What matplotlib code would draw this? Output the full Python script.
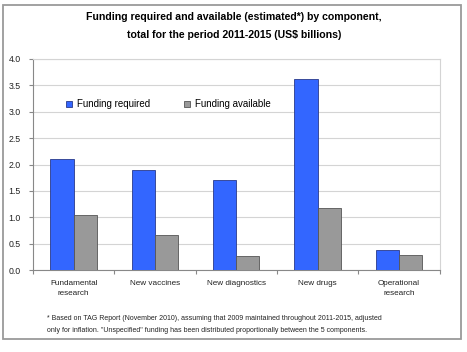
import matplotlib
matplotlib.use("Agg")
import matplotlib.pyplot as plt
import numpy as np
from matplotlib.patches import Rectangle

plt.rcParams["font.family"] = ["Liberation Sans", "DejaVu Sans"]

categories = ["Fundamental\nresearch", "New vaccines", "New diagnostics",
              "New drugs", "Operational\nresearch"]
required = [2.10, 1.89, 1.71, 3.63, 0.37]
available = [1.04, 0.67, 0.26, 1.17, 0.29]
yticks = [0.0, 0.5, 1.0, 1.5, 2.0, 2.5, 3.0, 3.5, 4.0]

W, H = 467, 352
fig = plt.figure(figsize=(W / 100, H / 100), dpi=100)

# outer frame
fig.patches.append(Rectangle((3 / W, 1 - 339 / H), 458 / W, 334 / H,
                             transform=fig.transFigure, fill=False,
                             edgecolor="#9a9a9a", linewidth=1.3))

ax = fig.add_axes([33 / W, 1 - 270 / H, 406.5 / W, 211 / H])

x = np.arange(len(categories))
bw = 0.285
ax.bar(x - bw / 2, required, bw, color="#3366ff", edgecolor="#2a3a8a",
       linewidth=0.6, label="Funding required", zorder=3)
ax.bar(x + bw / 2, available, bw, color="#999999", edgecolor="#555555",
       linewidth=0.6, label="Funding available", zorder=3)

ax.set_ylim(0, 4.0)
ax.set_xlim(-0.5, len(categories) - 0.5)
ax.set_yticks(yticks)
ax.set_yticklabels([f"{v:.1f}" for v in yticks], fontsize=6.3, color="#222222")
ax.yaxis.grid(True, color="#d4d4d4", linewidth=0.8, zorder=0)

# category separators as ticks, labels at centres
ax.set_xticks(np.arange(len(categories) + 1) - 0.5)
ax.set_xticklabels([])
ax.set_xticks(x, minor=True)
ax.set_xticklabels(categories, minor=True, fontsize=5.9, color="#222222",
                   linespacing=1.6)
ax.tick_params(axis="x", which="minor", length=0, pad=7)
ax.tick_params(axis="x", which="major", length=3, color="#888888")
ax.tick_params(axis="y", length=3, color="#888888", pad=6)

for s in ["top", "right"]:
    ax.spines[s].set_color("#d4d4d4")
for s in ["left", "bottom"]:
    ax.spines[s].set_color("#888888")

ax.legend(loc="upper left", bbox_to_anchor=(0.06, 0.85), ncol=2,
          frameon=False, fontsize=7, handlelength=0.6, handleheight=0.6,
          handletextpad=0.5, columnspacing=3.5)

fig.text(234 / W, 1 - 17 / H,
         "Funding required and available (estimated*) by component,",
         ha="center", va="center", fontsize=7.6, fontweight="bold")
fig.text(234 / W, 1 - 35 / H,
         "total for the period 2011-2015 (US$ billions)",
         ha="center", va="center", fontsize=7.6, fontweight="bold")

fig.text(47 / W, 1 - 318 / H,
         "* Based on TAG Report (November 2010), assuming that 2009 maintained "
         "throughout 2011-2015, adjusted",
         ha="left", va="center", fontsize=5, color="#222222")
fig.text(47 / W, 1 - 331 / H,
         "only for inflation. \"Unspecified\" funding has been distributed "
         "proportionally between the 5 components.",
         ha="left", va="center", fontsize=5, color="#222222")

fig.savefig("out.png", dpi=100)
